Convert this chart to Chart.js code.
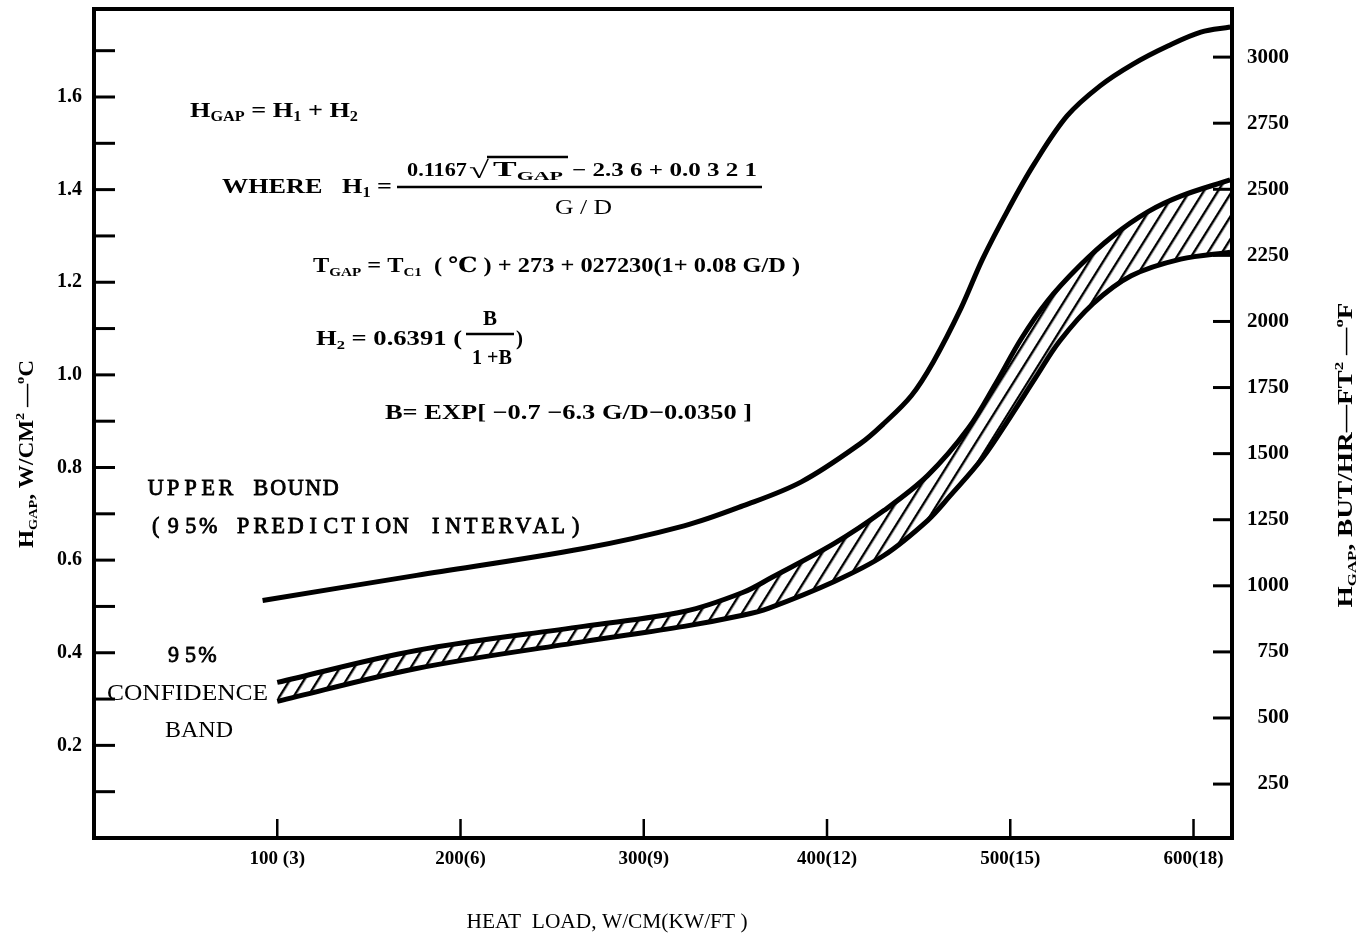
<!DOCTYPE html>
<html>
<head>
    <title>Gap conductance vs heat load</title>
    <script src="https://cdn.jsdelivr.net/npm/chart.js"></script>
    <style>
        body {
            margin: 0;
            background-color: #fff;
        }
        #wrap {
            width: 1367px;
            height: 939px;
        }
    </style>
</head>
<body>
    <div id="wrap"><canvas id="gapChart"></canvas></div>

    <script>
        // Heat load (W/cm) and gap conductance (W/cm2-C) along each curve
        const upperX = [92, 176, 267, 322, 354, 386, 418, 431, 446, 458, 473, 485, 499, 513, 531, 549, 567, 586, 604, 620];
        const upperY = [0.513, 0.567, 0.625, 0.674, 0.717, 0.769, 0.851, 0.895, 0.955, 1.028, 1.143, 1.251, 1.358, 1.455, 1.559, 1.624, 1.671, 1.710, 1.740, 1.751];

        const bandTopX = [100, 176, 267, 322, 354, 370, 404, 431, 455, 477, 492, 506, 520, 538, 556, 575, 593, 620];
        const bandTopY = [0.336, 0.405, 0.457, 0.489, 0.530, 0.563, 0.636, 0.707, 0.783, 0.884, 0.981, 1.078, 1.158, 1.236, 1.300, 1.352, 1.386, 1.421];

        const bandLowX = [100, 176, 267, 322, 354, 368, 404, 431, 455, 467, 485, 500, 514, 527, 545, 566, 593, 620];
        const bandLowY = [0.295, 0.366, 0.424, 0.457, 0.481, 0.496, 0.554, 0.610, 0.686, 0.738, 0.821, 0.909, 0.995, 1.073, 1.153, 1.214, 1.250, 1.265];

        // Axis ticks
        const xTicks = [100, 200, 300, 400, 500, 600];
        const xTickLabels = ['100 (3)', '200(6)', '300(9)', '400(12)', '500(15)', '600(18)'];
        const leftTicks = [0.1, 0.2, 0.3, 0.4, 0.5, 0.6, 0.7, 0.8, 0.9, 1.0, 1.1, 1.2, 1.3, 1.4, 1.5, 1.6, 1.7];
        const leftTickLabels = ['', '0.2', '', '0.4', '', '0.6', '', '0.8', '', '1.0', '', '1.2', '', '1.4', '', '1.6', ''];
        const rightTicks = [250, 500, 750, 1000, 1250, 1500, 1750, 2000, 2250, 2500, 2750, 3000];

        const SERIF = '"Liberation Serif", "DejaVu Serif", serif';

        const toPoints = (xs, ys) => xs.map((x, i) => ({ x: x, y: ys[i] }));

        // diagonal hatching for the confidence band
        function hatch() {
            const c = document.createElement('canvas');
            c.width = 12;
            c.height = 12;
            const g = c.getContext('2d');
            g.fillStyle = '#000';
            g.fillRect(5, 0, 2.4, 12);
            const p = g.createPattern(c, 'repeat');
            p.setTransform(new DOMMatrix().rotateSelf(32));
            return p;
        }

        // text made of plain / sub / sup pieces, optionally squeezed to a width
        function setFont(ctx, size, o) {
            ctx.font = (o.weight || 'bold') + ' ' + size + 'px ' + SERIF;
        }
        function runWidth(ctx, parts, o) {
            let w = 0;
            parts.forEach(([t, k]) => {
                setFont(ctx, k ? o.size * 0.62 : o.size, o);
                w += ctx.measureText(t).width;
            });
            return w;
        }
        function drawRun(ctx, parts, x, y, o) {
            const w = runWidth(ctx, parts, o);
            const sx = o.width ? o.width / w : 1;
            ctx.save();
            ctx.translate(x, y);
            if (o.rotate) ctx.rotate(o.rotate);
            ctx.scale(sx, 1);
            ctx.fillStyle = '#000';
            ctx.textAlign = 'left';
            ctx.textBaseline = 'alphabetic';
            let cx = o.center ? -w / 2 : 0;
            parts.forEach(([t, k]) => {
                setFont(ctx, k ? o.size * 0.62 : o.size, o);
                const dy = k === 'sub' ? o.size * 0.2 : (k === 'sup' ? -o.size * 0.42 : 0);
                ctx.fillText(t, cx, dy);
                cx += ctx.measureText(t).width;
            });
            ctx.restore();
        }
        // typewriter lettering, one character per fixed pitch
        function drawTyped(ctx, text, x, y, pitch, size) {
            ctx.save();
            ctx.font = size + 'px ' + SERIF;
            ctx.textAlign = 'center';
            ctx.textBaseline = 'alphabetic';
            ctx.fillStyle = '#000';
            ctx.strokeStyle = '#000';
            ctx.lineWidth = 0.9;
            for (let i = 0; i < text.length; i++) {
                const cx = x + i * pitch + pitch / 2;
                ctx.save();
                ctx.translate(cx, y);
                ctx.scale(0.92, 1);
                ctx.fillText(text[i], 0, 0);
                ctx.strokeText(text[i], 0, 0);
                ctx.restore();
            }
            ctx.restore();
        }
        function hline(ctx, x0, x1, y, w) {
            ctx.beginPath();
            ctx.lineWidth = w;
            ctx.moveTo(x0, y);
            ctx.lineTo(x1, y);
            ctx.stroke();
        }

        const paperInk = {
            id: 'paperInk',
            afterDraw(chart) {
                const ctx = chart.ctx;
                const a = chart.chartArea;
                const sx = chart.scales.x, sy = chart.scales.y, sr = chart.scales.y2;
                ctx.save();
                ctx.strokeStyle = '#000';
                ctx.lineCap = 'butt';

                // frame
                ctx.lineWidth = 4;
                ctx.strokeRect(a.left, a.top, a.right - a.left, a.bottom - a.top);

                // inward tick marks
                leftTicks.forEach(v => {
                    hline(ctx, a.left, a.left + 21, sy.getPixelForValue(v), 3);
                });
                rightTicks.forEach(v => {
                    hline(ctx, a.right - 19, a.right, sr.getPixelForValue(v), 3);
                });
                xTicks.forEach(v => {
                    const x = sx.getPixelForValue(v);
                    ctx.beginPath();
                    ctx.lineWidth = 2.5;
                    ctx.moveTo(x, a.bottom);
                    ctx.lineTo(x, a.bottom - 19);
                    ctx.stroke();
                });

                // formulas
                drawRun(ctx, [['H'], ['GAP', 'sub'], [' = H'], ['1', 'sub'], [' + H'], ['2', 'sub']], 190, 117, { size: 22, width: 168 });
                drawRun(ctx, [['WHERE   H'], ['1', 'sub'], [' =']], 222, 193, { size: 22, width: 170 });
                drawRun(ctx, [['0.1167']], 407, 176, { size: 19, width: 60 });
                drawRun(ctx, [['√']], 469, 178, { size: 24, width: 20 });
                drawRun(ctx, [['T'], ['GAP', 'sub']], 493, 176, { size: 20, width: 70 });
                hline(ctx, 487, 568, 157, 2.5);
                drawRun(ctx, [['− 2.3 6 + 0.0 3 2 1']], 572, 176, { size: 19, width: 185 });
                hline(ctx, 397, 762, 187, 2.5);
                drawRun(ctx, [['G / D']], 555, 214, { size: 22, width: 57, weight: 'normal' });

                drawRun(ctx, [['T'], ['GAP', 'sub'], [' = T'], ['C1', 'sub'], ['  ( ℃ ) + 273 + 027230(1+ 0.08 G/D )']], 313, 272, { size: 21, width: 487 });

                drawRun(ctx, [['H'], ['2', 'sub'], [' = 0.6391 (']], 316, 345, { size: 21, width: 146 });
                drawRun(ctx, [['B']], 490, 325, { size: 21, center: true });
                hline(ctx, 466, 514, 334, 2.5);
                drawRun(ctx, [['1 +B']], 492, 364, { size: 21, center: true, width: 40 });
                drawRun(ctx, [[')']], 516, 345, { size: 21 });

                drawRun(ctx, [['B= EXP[ −0.7 −6.3 G/D−0.0350 ]']], 385, 419, { size: 21, width: 367 });

                // curve annotations
                drawTyped(ctx, 'UPPER BOUND', 147, 495, 17.5, 24);
                drawTyped(ctx, '(95% PREDICTION INTERVAL)', 147, 533, 17.5, 24);
                drawTyped(ctx, '95%', 165, 662, 17, 24);
                drawRun(ctx, [['CONFIDENCE']], 107, 700, { size: 24, width: 161, weight: 'normal' });
                drawRun(ctx, [['BAND']], 165, 737, { size: 24, width: 68, weight: 'normal' });

                // axis titles
                drawRun(ctx, [['H'], ['GAP', 'sub'], [', W/CM'], ['2', 'sup'], [' —'], ['o', 'sup'], ['C']], 33, 454,
                    { size: 21, width: 188, center: true, rotate: -Math.PI / 2 });
                drawRun(ctx, [['H'], ['GAP', 'sub'], [', BUT/HR—FT'], ['2', 'sup'], [' —'], ['o', 'sup'], ['F']], 1352, 455,
                    { size: 21, width: 305, center: true, rotate: -Math.PI / 2 });
                drawRun(ctx, [['HEAT  LOAD, W/CM(KW/FT )']], 607, 928, { size: 22, width: 281, center: true, weight: 'normal' });

                ctx.restore();
            }
        };

        const lineStyle = {
            borderColor: '#000',
            borderWidth: 5,
            pointRadius: 0,
            tension: 0.35
        };

        // keep the plot box fixed: no extra padding from the tick labels
        const noPad = s => {
            s.paddingTop = 0;
            s.paddingBottom = 0;
            s.paddingLeft = 0;
            s.paddingRight = 0;
        };

        new Chart(document.getElementById('gapChart'), {
            type: 'line',
            data: {
                datasets: [
                    Object.assign({ label: 'Upper bound', data: toPoints(upperX, upperY), fill: false }, lineStyle),
                    Object.assign({ label: 'Band upper', data: toPoints(bandTopX, bandTopY), fill: false }, lineStyle),
                    Object.assign({ label: 'Band lower', data: toPoints(bandLowX, bandLowY), fill: '-1', backgroundColor: hatch() }, lineStyle)
                ]
            },
            options: {
                responsive: true,
                maintainAspectRatio: false,
                animation: false,
                layout: { padding: { top: 9, left: 0, right: 78, bottom: 0 } },
                plugins: {
                    legend: { display: false },
                    tooltip: { enabled: false }
                },
                scales: {
                    x: {
                        type: 'linear',
                        min: 0,
                        max: 621,
                        afterBuildTicks: s => { s.ticks = xTicks.map(v => ({ value: v })); },
                        afterFit: s => { s.height = 101; noPad(s); },
                        grid: { display: false, drawTicks: false },
                        border: { display: false },
                        ticks: {
                            autoSkip: false,
                            maxRotation: 0,
                            padding: 10,
                            color: '#000',
                            font: { family: SERIF, size: 19, weight: 'bold' },
                            callback: v => xTickLabels[xTicks.indexOf(v)]
                        }
                    },
                    y: {
                        position: 'left',
                        min: 0,
                        max: 1.79,
                        afterBuildTicks: s => { s.ticks = leftTicks.map(v => ({ value: v })); },
                        afterFit: s => { s.width = 94; noPad(s); },
                        grid: { display: false, drawTicks: false },
                        border: { display: false },
                        ticks: {
                            autoSkip: false,
                            padding: 12,
                            color: '#000',
                            font: { family: SERIF, size: 20, weight: 'bold' },
                            callback: (v, i) => leftTickLabels[i]
                        }
                    },
                    y2: {
                        position: 'right',
                        min: 46,
                        max: 3182,
                        afterBuildTicks: s => { s.ticks = rightTicks.map(v => ({ value: v })); },
                        afterFit: s => { s.width = 57; noPad(s); },
                        grid: { display: false, drawTicks: false },
                        border: { display: false },
                        ticks: {
                            autoSkip: false,
                            padding: 8,
                            crossAlign: 'far',
                            color: '#000',
                            font: { family: SERIF, size: 21, weight: 'bold' },
                            callback: v => String(v)
                        }
                    }
                }
            },
            plugins: [paperInk]
        });
    </script>
</body>
</html>
